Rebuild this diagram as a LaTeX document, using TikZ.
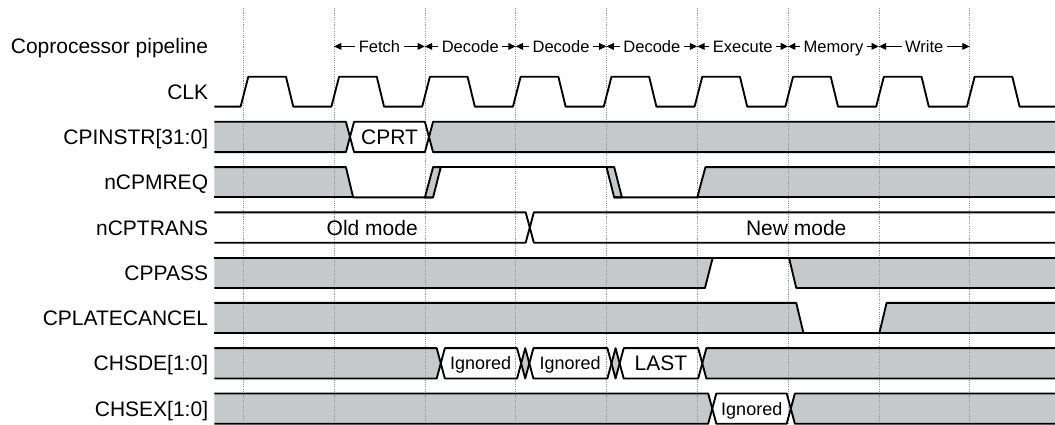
\documentclass[tikz,border=0pt]{standalone}
\usepackage{fontspec}
\setmainfont{Liberation Sans}
\usetikzlibrary{arrows.meta}
\definecolor{busgray}{RGB}{199,200,202}
\definecolor{gridgray}{RGB}{150,150,150}

\begin{document}
\begin{tikzpicture}[x=68.1pt,y=-33.96pt,
  sig/.style={line width=1.4pt,line join=round},
  dontcare/.style={fill=busgray},
  cycleline/.style={gridgray,line width=.5pt,dash pattern=on .8pt off .9pt},
  siglabel/.style={anchor=east,inner sep=0pt,text height=11.3pt,text depth=0pt,font=\fontsize{15.75}{18}\selectfont},
  busval/.style={inner sep=0pt,text height=11.3pt,text depth=0pt,font=\fontsize{15.75}{18}\selectfont},
  smallval/.style={busval,text height=9.7pt,font=\fontsize{13.5}{16}\selectfont},
  stage/.style={inner sep=2.5pt,text height=8.9pt,text depth=0pt,font=\fontsize{12.4}{15}\selectfont},
  stagearrow/.style={line width=1pt,-{Triangle[length=5.5pt,width=5pt]}}]
  \useasboundingbox (-2.68,-2.025) rectangle (8.94,7.361);

  % don't-care areas
  \fill[dontcare] (-.32,.665) -- (1.13,.665) -- (1.175,1) -- (1.13,1.335) -- (-.32,1.335) -- cycle;
  \fill[dontcare] (2.045,1) -- (2.09,.665) -- (8.94,.665) -- (8.94,1.335) -- (2.09,1.335) -- cycle;
  \fill[dontcare] (-.32,1.665) -- (1.13,1.665) -- (1.21,2.335) -- (-.32,2.335) -- cycle;
  \fill[dontcare] (5,2.335) -- (5.09,1.665) -- (8.94,1.665) -- (8.94,2.335) -- cycle;
  \fill[dontcare] (-.32,3.665) -- (5.17,3.665) -- (5.085,4.335) -- (-.32,4.335) -- cycle;
  \fill[dontcare] (6.01,3.665) -- (8.94,3.665) -- (8.94,4.335) -- (6.09,4.335) -- cycle;
  \fill[dontcare] (-.32,4.665) -- (6.09,4.665) -- (6.17,5.335) -- (-.32,5.335) -- cycle;
  \fill[dontcare] (7.005,5.335) -- (7.085,4.665) -- (8.94,4.665) -- (8.94,5.335) -- cycle;
  \fill[dontcare] (-.32,5.665) -- (2.13,5.665) -- (2.175,6) -- (2.13,6.335) -- (-.32,6.335) -- cycle;
  \fill[dontcare] (3.06,6) -- (3.105,5.665) -- (3.15,6) -- (3.105,6.335) -- cycle;
  \fill[dontcare] (4.055,6) -- (4.1,5.665) -- (4.145,6) -- (4.1,6.335) -- cycle;
  \fill[dontcare] (5.055,6) -- (5.1,5.665) -- (8.94,5.665) -- (8.94,6.335) -- (5.1,6.335) -- cycle;
  \fill[dontcare] (-.32,6.665) -- (5.12,6.665) -- (5.165,7) -- (5.12,7.335) -- (-.32,7.335) -- cycle;
  \fill[dontcare] (6.03,7) -- (6.075,6.665) -- (8.94,6.665) -- (8.94,7.335) -- (6.075,7.335) -- cycle;

  \foreach \k in {0,...,8}
    \draw[cycleline] (\k,-1.85) -- (\k,7.361);

  % CLK
  \draw[sig] (-.32,.33) \foreach \k in {0,...,8}{ -- (\k-.03,.33) -- (\k+.055,-.33) -- (\k+.47,-.33) -- (\k+.55,.33)} -- (8.94,.33);
  % CPINSTR
  \draw[sig] (-.32,.665) -- (1.13,.665) -- (1.22,1.335) -- (2,1.335) -- (2.09,.665) -- (8.94,.665);
  \draw[sig] (-.32,1.335) -- (1.13,1.335) -- (1.22,.665) -- (2,.665) -- (2.09,1.335) -- (8.94,1.335);
  % nCPMREQ
  \draw[sig] (-.32,1.665) -- (1.13,1.665) -- (1.21,2.335) -- (2.09,2.335);
  \draw[sig] (-.32,2.335) -- (1.21,2.335);
  \filldraw[dontcare,sig] (2,2.335) -- (2.09,2.335) -- (2.175,1.665) -- (2.09,1.665) -- cycle;
  \draw[sig] (2.09,1.665) -- (4.085,1.665);
  \filldraw[dontcare,sig] (4,1.665) -- (4.085,1.665) -- (4.17,2.335) -- (4.085,2.335) -- cycle;
  \draw[sig] (4.085,2.335) -- (5,2.335) -- (5.09,1.665) -- (8.94,1.665);
  \draw[sig] (5,2.335) -- (8.94,2.335);
  % nCPTRANS
  \draw[sig] (-.32,2.665) -- (3.11,2.665) -- (3.2,3.335) -- (8.94,3.335);
  \draw[sig] (-.32,3.335) -- (3.11,3.335) -- (3.2,2.665) -- (8.94,2.665);
  % CPPASS
  \draw[sig] (-.32,3.665) -- (8.94,3.665);
  \draw[sig] (-.32,4.335) -- (5.085,4.335) -- (5.17,3.665);
  \draw[sig] (6.01,3.665) -- (6.09,4.335) -- (8.94,4.335);
  % CPLATECANCEL
  \draw[sig] (-.32,5.335) -- (8.94,5.335);
  \draw[sig] (-.32,4.665) -- (6.09,4.665) -- (6.17,5.335);
  \draw[sig] (7.005,5.335) -- (7.085,4.665) -- (8.94,4.665);
  % CHSDE
  \draw[sig] (-.32,5.665) -- (2.13,5.665) -- (2.22,6.335) -- (3.015,6.335) -- (3.105,5.665) -- (3.195,6.335) -- (4.01,6.335) -- (4.1,5.665) -- (4.19,6.335) -- (5.01,6.335) -- (5.1,5.665) -- (8.94,5.665);
  \draw[sig] (-.32,6.335) -- (2.13,6.335) -- (2.22,5.665) -- (3.015,5.665) -- (3.105,6.335) -- (3.195,5.665) -- (4.01,5.665) -- (4.1,6.335) -- (4.19,5.665) -- (5.01,5.665) -- (5.1,6.335) -- (8.94,6.335);
  % CHSEX
  \draw[sig] (-.32,6.665) -- (5.12,6.665) -- (5.21,7.335) -- (5.985,7.335) -- (6.075,6.665) -- (8.94,6.665);
  \draw[sig] (-.32,7.335) -- (5.12,7.335) -- (5.21,6.665) -- (5.985,6.665) -- (6.075,7.335) -- (8.94,7.335);

  \node[siglabel] (hdr) at (-.385,-1) {Coprocessor pipeline};
  \node[siglabel] (clk) at (-.385,0) {CLK};
  \node[siglabel] (cpinstr) at (-.385,1) {CPINSTR[31:0]};
  \node[siglabel] (ncpmreq) at (-.385,2) {nCPMREQ};
  \node[siglabel] (ncptrans) at (-.385,3) {nCPTRANS};
  \node[siglabel] (cppass) at (-.385,4) {CPPASS};
  \node[siglabel] (cplate) at (-.385,5) {CPLATECANCEL};
  \node[siglabel] (chsde) at (-.385,6) {CHSDE[1:0]};
  \node[siglabel] (chsex) at (-.385,7) {CHSEX[1:0]};

  \node[busval] (cprt) at (1.61,1) {CPRT};
  \node[busval] (oldmode) at (1.42,3) {Old mode};
  \node[busval] (newmode) at (6.09,3) {New mode};
  \node[smallval] (ignA) at (2.615,6) {Ignored};
  \node[smallval] (ignB) at (3.6,6) {Ignored};
  \node[busval] (last) at (4.6,6) {LAST};
  \node[smallval] (ignC) at (5.6,7) {Ignored};

  % pipeline stages
  \foreach \k in {1,...,8}
    \coordinate (b\k) at (\k,-1);
  \foreach \txt [count=\k] in {Fetch,Decode,Decode,Decode,Execute,Memory,Write}{
    \pgfmathtruncatemacro\nx{\k+1}
    \node[stage] (s\k) at (\k+.5,-1) {\txt};
    \draw[stagearrow] (s\k.west) -- (b\k);
    \draw[stagearrow] (s\k.east) -- (b\nx);
  }
\end{tikzpicture}
\end{document}
